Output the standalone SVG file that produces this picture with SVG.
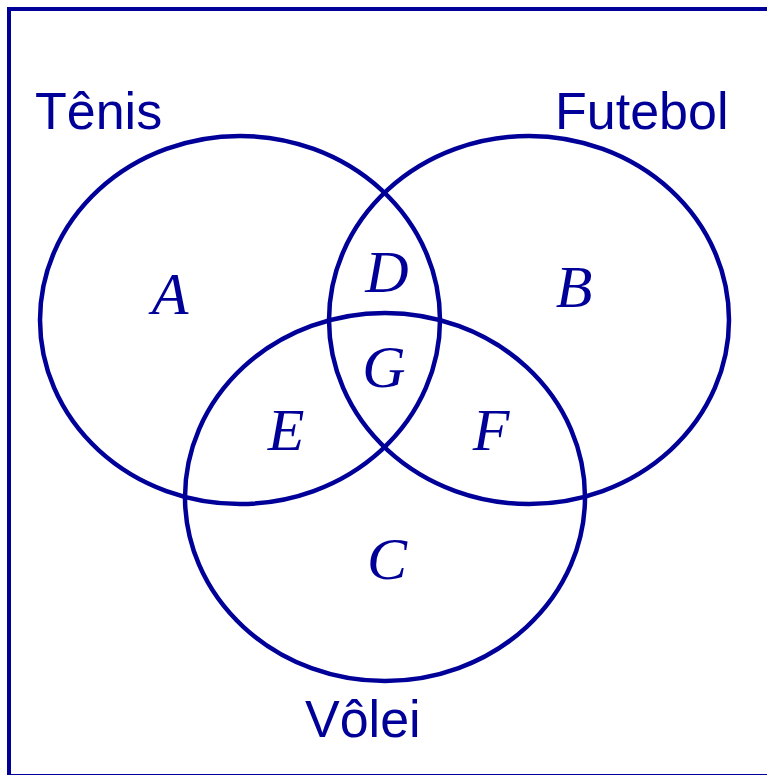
<svg xmlns="http://www.w3.org/2000/svg" width="767" height="775" viewBox="0 0 767 775">
<style>
.c{fill:none;stroke:#000099;stroke-width:4.5}
.lbl{font-family:"Liberation Sans",Arial,sans-serif;font-size:52px;fill:#000099}
.v{font-family:"Liberation Serif","Times New Roman",serif;font-style:italic;font-size:60px;fill:#000099;text-anchor:middle}
</style>
<rect x="0" y="0" width="767" height="775" fill="#ffffff"/>
<rect x="9" y="9" width="800" height="767" fill="none" stroke="#000099" stroke-width="4"/>
<g id="tenis"><ellipse class="c" cx="240" cy="320" rx="200" ry="184"/><text class="lbl" x="35" y="129">Tênis</text></g>
<g id="futebol"><ellipse class="c" cx="529" cy="320" rx="200" ry="184"/><text class="lbl" x="555" y="129">Futebol</text></g>
<g id="volei"><ellipse class="c" cx="385" cy="497" rx="200" ry="184"/><text class="lbl" x="305" y="737">Vôlei</text></g>
<g id="regions">
<text class="v" x="170" y="314">A</text>
<text class="v" x="574" y="307">B</text>
<text class="v" x="387" y="579">C</text>
<text class="v" x="387" y="292">D</text>
<text class="v" x="286" y="450">E</text>
<text class="v" x="491" y="450">F</text>
<text class="v" x="384" y="387">G</text>
</g>
</svg>
